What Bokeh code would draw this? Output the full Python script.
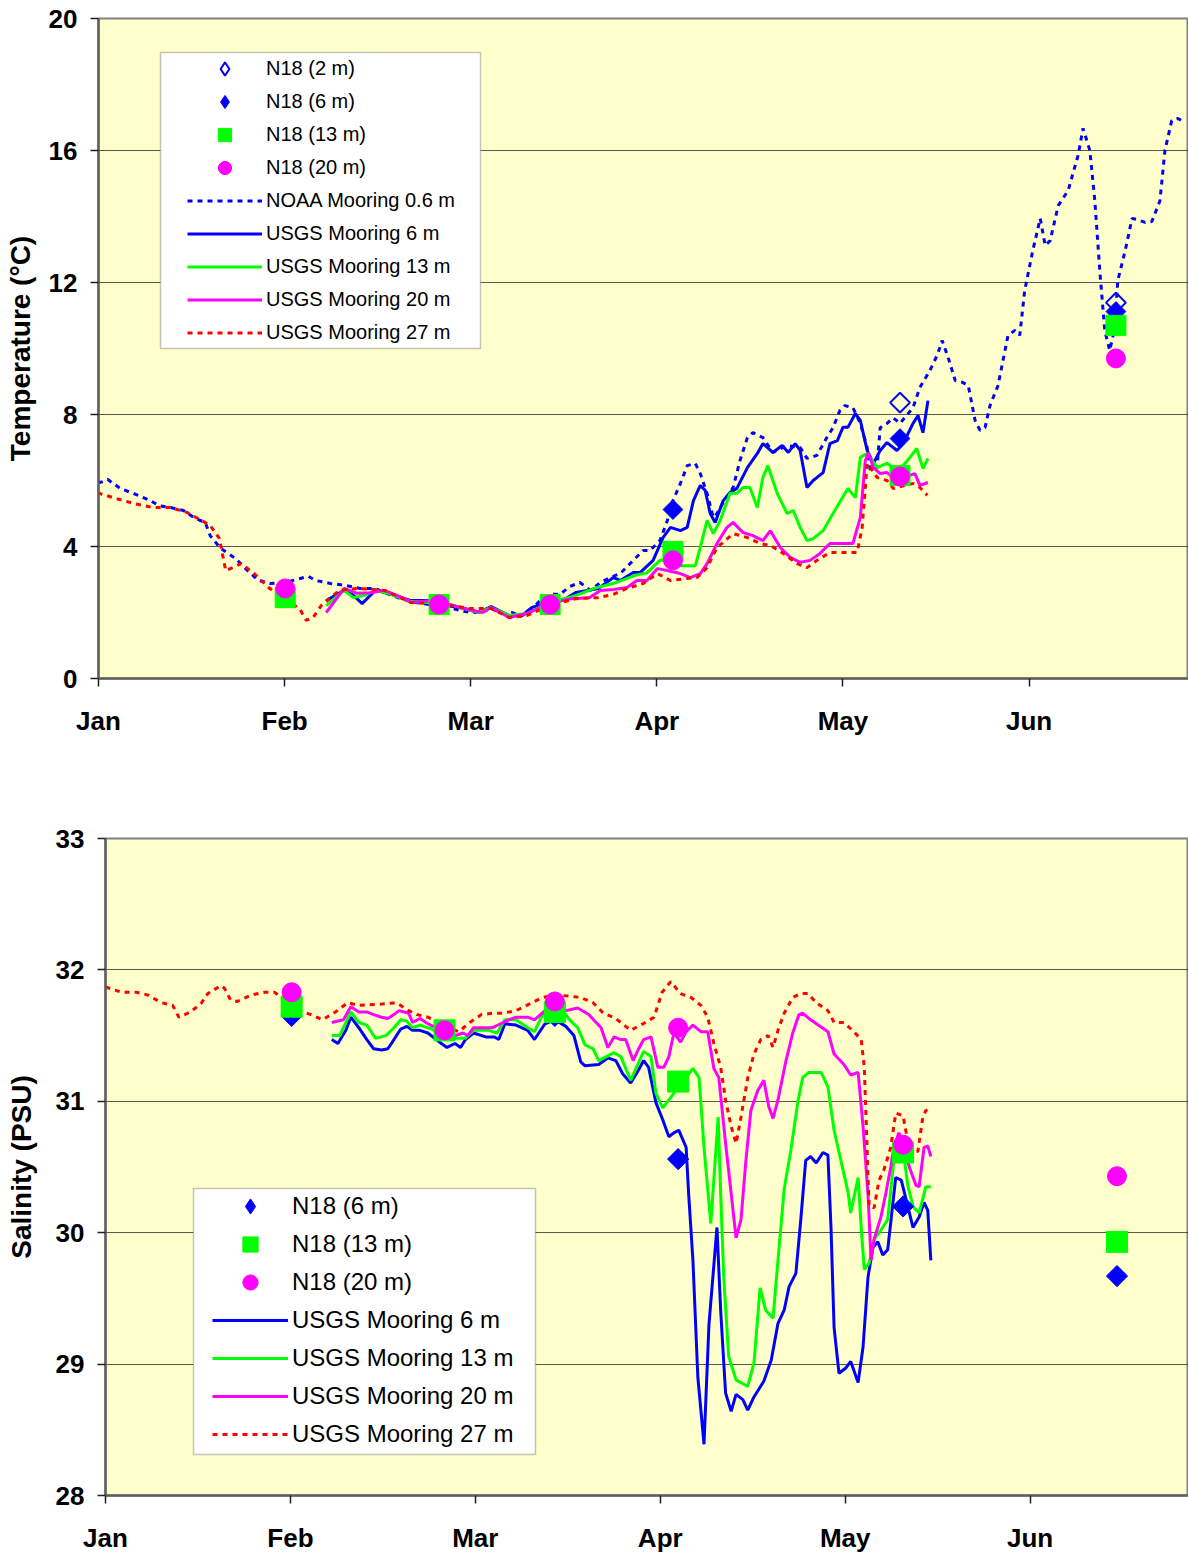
import math
from bokeh.plotting import figure
from bokeh.models import FixedTicker, Legend, LegendItem, BoxAnnotation, Range1d
from bokeh.embed import file_html
from bokeh.resources import INLINE

FONT = "Liberation Sans"
BLUE, GREEN, MAGENTA, RED = "#0000FF", "#00FF00", "#FF00FF", "#FF0000"
NAN = float("nan")

# x axis: days since 1 Jan, month ticks every 30 days
MONTH_DAYS = [0, 30, 60, 90, 120, 150]
MONTH_LABELS = ["Jan", "Feb", "Mar", "Apr", "May", "Jun"]
X_END = 175.7

# ---------------- temperature (deg C) ----------------
noaa_day = [-1.6, 0.3, 1.5, 3.5, 6.0, 8.4, 9.7, 11.6, 13.7, 15.6, 17.2, 18.0, 19.7, 22.1, 23.7,
            25.8, 27.7, 30.1, 32.5, 33.8, 35.0, 37.4, 39.8, 42.2, 44.6, 46.2, 48.7, 51.1, 53.5,
            55.9, 58.3, 59.9, 61.5, 63.2, 64.8, 65.6, 66.7, 68.0, 69.6, 71.2, 73.1, 74.4, 76.0,
            77.6, 79.3, 80.9, 82.5, 84.1, 86.2, 87.8, 88.9, 90.5, 91.7, 92.6, 93.8, 94.9, 96.2,
            97.0, 98.1, 99.1, 99.7, 100.6, 102.3, 103.4, 104.6, 105.5, 107.1, 108.7, 111.0, 113.1,
            114.2, 115.8, 117.4, 118.4, 119.5, 120.3, 121.6, 122.8, 123.9, 124.4, 125.5, 126.0,
            127.1, 128.1, 129.2, 131.3, 132.4, 134.0, 135.2, 136.0, 137.0, 138.1, 139.2, 140.2,
            141.3, 142.1, 142.9, 143.7, 145.0, 145.8, 146.6, 147.7, 148.5, 149.3, 150.6, 151.8,
            152.6, 153.4, 154.7, 156.3, 157.9, 158.7, 159.8, 160.6, 161.4, 162.2, 163.0, 163.8,
            164.3, 165.5, 166.6, 167.6, 168.7, 169.8, 171.1, 171.9, 173.0, 174.0, 175.1]
noaa_t = [6.06, 5.94, 6.03, 5.76, 5.58, 5.39, 5.24, 5.18, 5.09, 4.85, 4.73, 4.33, 3.94, 3.64, 3.33,
          2.97, 2.88, 2.91, 3.03, 3.10, 2.97, 2.88, 2.82, 2.73, 2.73, 2.60, 2.42, 2.30, 2.24,
          2.18, 2.06, 2.00, 2.00, 2.12, 2.00, 1.94, 2.00, 1.88, 2.06, 2.36, 2.55, 2.55, 2.79,
          2.91, 2.67, 2.91, 3.06, 3.18, 3.58, 3.88, 3.88, 4.18, 4.79, 5.39, 5.91, 6.45, 6.52,
          6.21, 5.61, 4.88, 5.00, 5.30, 5.79, 6.60, 7.30, 7.45, 7.30, 6.85, 7.06, 7.00,
          6.67, 6.76, 7.30, 7.60, 8.12, 8.27, 8.21, 7.73, 7.00, 6.30, 6.39, 7.60,
          7.73, 7.90, 7.73, 8.21, 8.82, 9.33, 9.80, 10.24, 9.70, 9.03, 8.98, 8.88,
          7.82, 7.52, 7.60, 8.27, 8.88, 9.64, 10.39, 10.55, 10.40, 11.76, 12.97, 13.94,
          13.12, 13.27, 14.33, 14.79, 15.85, 16.67, 16.00, 14.48, 12.36, 10.55, 9.94, 10.60,
          12.06, 12.97, 13.94, 13.90, 13.82, 13.85, 14.48, 16.00, 16.91, 16.97, 16.85]

t6_day = [36.7, 39.6, 41.1, 42.5, 44.6, 46.7, 50.4, 53.3, 56.1, 59.0, 61.2, 63.3, 66.2, 68.3, 69.8,
          72.7, 74.8, 77.0, 80.6, 83.0, 84.1, 86.2, 87.3, 89.4, 91.0, 92.2, 93.8, 94.9, 95.9, 97.0,
          97.8, 98.6, 99.4, 100.7, 101.8, 102.9, 104.6, 106.2, 107.1, 108.7, 110.2, 111.2, 112.3,
          113.1, 114.2, 115.2, 116.8, 117.9, 119.1, 120.0, 120.8, 122.0, 122.8, 123.9, 124.9,
          126.0, 127.1, 128.7, 129.7, 131.3, 132.1, 132.9, 133.7]
t6_t = [2.36, 2.67, 2.52, 2.27, 2.67, 2.58, 2.36, 2.36, 2.21, 2.12, 2.00, 2.18, 1.91, 1.91, 2.15,
        2.33, 2.36, 2.61, 2.73, 3.06, 2.97, 3.21, 3.21, 3.58, 4.27, 4.58, 4.48, 4.58, 5.39, 5.85,
        5.70, 5.00, 4.73, 5.39, 5.64, 5.76, 6.39, 6.82, 7.12, 6.85, 7.06, 6.85, 7.12,
        6.91, 5.79, 6.00, 6.24, 7.12, 7.21, 7.61, 7.61, 8.03, 7.82, 6.91, 6.52,
        6.91, 7.15, 6.91, 7.12, 7.73, 7.97, 7.45, 8.42]

t13_day = [36.7, 39.6, 41.1, 42.9, 44.6, 46.7, 50.4, 56.1, 61.2, 63.3, 66.2, 69.1, 72.7, 77.0, 79.9,
           83.5, 86.4, 88.4, 90.5, 91.7, 93.8, 96.2, 97.0, 98.1, 99.1, 100.2, 101.8, 102.9, 103.9,
           105.0, 106.2, 107.1, 107.9, 109.4, 111.0, 112.0, 113.1, 114.2, 115.2, 116.8, 118.4,
           120.8, 122.0, 122.8, 123.9, 125.5, 127.1, 128.1, 129.7, 130.8, 131.9, 132.9, 133.7]
t13_t = [2.21, 2.67, 2.45, 2.52, 2.67, 2.58, 2.33, 2.27, 2.00, 2.15, 1.91, 1.97, 2.30, 2.52, 2.73,
         2.91, 3.12, 3.20, 3.58, 3.58, 3.42, 3.42, 3.97, 4.79, 4.39, 4.79, 5.61, 5.61, 5.79,
         5.79, 5.18, 6.09, 6.45, 5.61, 5.00, 5.09, 4.58, 4.18, 4.24, 4.48, 5.00,
         5.76, 5.48, 6.70, 6.82, 6.39, 6.52, 6.39, 6.45, 6.70, 6.97, 6.36, 6.67]

t20_day = [36.7, 39.6, 41.7, 43.8, 46.1, 49.0, 50.4, 53.3, 56.1, 59.0, 61.9, 63.3, 66.2, 69.1, 72.7,
           76.2, 79.1, 80.9, 83.0, 85.2, 86.8, 88.4, 90.1, 91.7, 93.8, 95.4, 97.0, 98.1, 99.7,
           101.3, 102.3, 103.9, 105.5, 107.1, 108.3, 109.9, 111.5, 113.1, 114.7, 116.3, 117.9,
           119.5, 121.6, 122.8, 123.6, 124.1, 124.9, 126.0, 127.1, 128.1, 129.7, 131.6, 132.4, 133.7]
t20_t = [2.00, 2.73, 2.58, 2.60, 2.67, 2.45, 2.30, 2.36, 2.27, 2.12, 2.00, 2.15, 1.85, 1.97, 2.27,
         2.42, 2.45, 2.67, 2.70, 2.76, 2.97, 2.97, 3.33, 3.27, 3.18, 3.06, 3.18, 3.48, 4.09,
         4.58, 4.73, 4.42, 4.33, 4.18, 4.48, 3.97, 3.67, 3.52, 3.58, 3.79, 4.09,
         4.09, 4.09, 4.88, 6.60, 6.85, 6.39, 6.21, 6.24, 6.09, 6.10, 6.21, 5.85, 5.94]

t27_day = [-1.6, 0.3, 2.9, 5.8, 8.7, 11.6, 14.3, 18.0, 19.5, 20.5, 21.6, 23.0, 25.1, 27.4, 30.3,
           32.4, 33.5, 34.6, 35.9, 38.8, 41.7, 46.1, 50.4, 56.1, 59.8, 63.3, 66.2, 69.1, 72.7,
           77.0, 80.6, 83.0, 85.2, 87.8, 90.1, 92.2, 94.9, 96.5, 98.1, 99.7, 102.3, 104.6, 106.7,
           108.3, 110.4, 112.6, 114.2, 115.8, 117.9, 120.0, 122.3, 123.1, 123.9, 124.4, 125.5,
           127.1, 128.1, 131.3, 132.4, 133.6]
t27_t = [5.76, 5.60, 5.45, 5.30, 5.18, 5.18, 5.03, 4.64, 4.24, 3.27, 3.36, 3.48, 3.18, 2.76, 2.36,
         2.12, 1.76, 1.85, 2.21, 2.67, 2.73, 2.67, 2.30, 2.24, 2.12, 2.12, 1.85, 1.91, 2.21,
         2.42, 2.45, 2.55, 2.73, 2.88, 3.18, 2.97, 3.03, 3.06, 3.36, 3.97, 4.39, 4.27, 4.09,
         4.03, 3.79, 3.48, 3.36, 3.58, 3.82, 3.82, 3.82, 4.58, 6.52, 6.40, 6.09,
         6.00, 5.76, 5.91, 5.79, 5.55]

# N18 station casts
n18_t2_day, n18_t2 = [129.2, 164.0], [8.36, 11.39]
n18_t6_day, n18_t6 = [92.6, 129.2, 164.0], [5.12, 7.27, 11.12]
n18_t13_day = [30.1, 54.9, 72.8, 92.6, 129.2, 164.0]
n18_t13 = [2.45, 2.24, 2.24, 3.85, 6.15, 10.70]
n18_t20_day = [30.1, 54.9, 72.8, 92.6, 129.2, 164.0]
n18_t20 = [2.73, 2.24, 2.24, 3.58, 6.12, 9.70]

# ---------------- salinity (PSU) ----------------
s6_day = [36.7, 37.7, 39.0, 39.8, 41.1, 42.4, 43.5, 44.8, 45.8, 46.8, 47.9, 48.9, 49.8, 51.0, 52.3,
          54.2, 55.4, 56.7, 57.6, 58.4, 59.7, 61.7, 63.1, 63.8, 64.8, 66.6, 68.5, 69.6, 71.3, 72.9,
          74.7, 76.0, 77.1, 77.8, 80.0, 81.5, 82.8, 83.9, 85.2, 86.5, 87.3, 88.1, 89.3, 90.4, 91.4,
          92.2, 93.0, 94.2, 94.6, 95.3, 96.1, 97.1, 97.9, 99.2, 99.8, 100.6, 101.5, 102.3, 103.4,
          104.2, 105.2, 106.8, 108.0, 109.1, 110.1, 110.9, 112.0, 112.8, 113.6, 114.4, 115.3,
          116.4, 117.2, 117.7, 118.2, 119.0, 120.1, 120.9, 122.1, 122.9, 123.7, 124.5, 125.3,
          126.1, 126.9, 127.8, 128.2, 129.1, 129.9, 131.0, 132.0, 132.8, 133.4, 133.9]
s6_s = [31.47, 31.44, 31.54, 31.64, 31.56, 31.47, 31.40, 31.39, 31.40, 31.47, 31.55, 31.57, 31.54,
        31.54, 31.52, 31.45, 31.41, 31.44, 31.41, 31.47, 31.52, 31.49, 31.49, 31.47, 31.59, 31.58,
        31.54, 31.47, 31.59, 31.62, 31.57, 31.50, 31.30, 31.27, 31.28, 31.33, 31.31, 31.21, 31.14,
        31.24, 31.31, 31.26, 30.99, 30.86, 30.73, 30.76, 30.78, 30.65, 30.30, 29.79, 28.90, 28.39,
        29.30, 30.04, 29.41, 28.78, 28.64, 28.77, 28.73, 28.65, 28.75, 28.87, 29.03, 29.31, 29.41,
        29.59, 29.69, 30.10, 30.55, 30.58, 30.53, 30.61, 30.59, 30.04, 29.28, 28.93, 28.97, 29.02,
        28.86, 29.13, 29.66, 29.89, 29.93, 29.83, 29.87, 30.25, 30.42, 30.40, 30.25, 30.04, 30.12,
        30.23, 30.17, 29.79]

s13_day = [36.7, 38.0, 39.8, 41.1, 42.4, 43.8, 45.5, 46.8, 47.9, 48.9, 49.8, 51.0, 52.9, 54.7, 56.7,
           58.4, 59.7, 62.2, 63.5, 64.8, 66.6, 68.5, 69.6, 70.9, 72.2, 74.0, 75.3, 76.6, 77.8, 79.1,
           80.0, 82.5, 83.6, 85.2, 87.3, 88.5, 89.3, 90.4, 92.2, 93.3, 94.5, 95.3, 96.3, 97.1, 98.2,
           99.4, 99.8, 100.3, 101.1, 102.3, 104.2, 105.2, 106.2, 107.1, 108.3, 109.1, 110.1, 111.2,
           112.3, 113.1, 114.1, 116.1, 117.2, 118.2, 119.3, 120.5, 120.9, 122.1, 122.6, 123.1,
           123.9, 124.7, 125.8, 126.9, 127.9, 128.6, 129.4, 130.2, 131.0, 132.0, 133.1, 133.9]
s13_s = [31.50, 31.50, 31.68, 31.60, 31.58, 31.48, 31.50, 31.56, 31.62, 31.61, 31.56, 31.58, 31.55,
         31.50, 31.48, 31.48, 31.54, 31.54, 31.52, 31.62, 31.62, 31.56, 31.53, 31.66, 31.72, 31.70,
         31.62, 31.56, 31.43, 31.40, 31.31, 31.37, 31.34, 31.16, 31.38, 31.34, 31.06, 30.95, 31.06,
         31.14, 31.20, 31.25, 31.18, 30.65, 30.07, 30.88, 30.30, 29.66, 29.06, 28.88, 28.83, 29.01,
         29.58, 29.41, 29.35, 29.79, 30.33, 30.63, 30.99, 31.18, 31.22, 31.22, 31.11, 30.78, 30.55,
         30.30, 30.15, 30.42, 30.04, 29.72, 29.77, 29.95, 30.02, 30.10, 30.55, 30.65, 30.63, 30.35,
         30.20, 30.15, 30.35, 30.35]

s20_day = [36.7, 38.6, 39.8, 41.1, 42.4, 43.5, 44.8, 45.8, 46.8, 47.6, 49.2, 49.8, 51.0, 52.3, 53.6,
           55.0, 56.7, 58.0, 58.8, 59.7, 61.0, 62.8, 64.1, 65.4, 66.6, 68.5, 69.6, 71.3, 72.9, 74.7,
           76.6, 78.4, 80.4, 81.5, 82.5, 83.6, 84.4, 85.6, 86.4, 87.3, 88.5, 89.6, 90.6, 91.4, 92.2,
           93.3, 94.2, 95.3, 96.6, 97.7, 98.7, 99.5, 100.6, 101.5, 102.3, 103.1, 103.9, 104.7,
           105.8, 106.8, 107.6, 108.3, 109.1, 110.4, 111.5, 112.5, 113.1, 114.4, 117.2, 118.2,
           119.8, 120.9, 122.1, 122.9, 123.7, 124.2, 124.7, 125.8, 126.6, 127.4, 127.9, 128.7,
           129.5, 130.4, 131.5, 132.0, 132.8, 133.4, 133.9]
s20_s = [31.60, 31.62, 31.72, 31.68, 31.68, 31.66, 31.64, 31.63, 31.66, 31.69, 31.67, 31.60, 31.63,
         31.59, 31.56, 31.54, 31.50, 31.52, 31.50, 31.56, 31.56, 31.56, 31.59, 31.62, 31.64, 31.64,
         31.62, 31.69, 31.77, 31.69, 31.71, 31.66, 31.56, 31.41, 31.49, 31.47, 31.47, 31.31, 31.39,
         31.47, 31.49, 31.26, 31.26, 31.34, 31.52, 31.45, 31.53, 31.58, 31.53, 31.53, 31.25, 31.18,
         30.68, 30.30, 29.96, 30.10, 30.55, 30.93, 31.08, 31.16, 30.96, 30.87, 31.01, 31.31, 31.52,
         31.66, 31.67, 31.62, 31.53, 31.36, 31.28, 31.20, 31.22, 30.81, 30.30, 29.79, 29.95, 30.12,
         30.30, 30.50, 30.65, 30.76, 30.69, 30.50, 30.36, 30.35, 30.65, 30.66, 30.58]

s27_day = [-1.5, 0.0, 2.6, 5.0, 6.8, 9.1, 10.9, 11.9, 13.8, 15.6, 16.6, 18.7, 19.3, 20.3, 21.4, 23.7,
           25.8, 27.4, 28.7, 30.2, 31.5, 33.3, 35.2, 37.3, 39.3, 41.1, 44.8, 47.2, 49.2, 50.5, 52.3,
           54.2, 55.7, 57.3, 59.1, 61.0, 62.8, 64.4, 66.6, 69.2, 70.9, 72.9, 75.3, 77.1, 79.1, 80.8,
           82.8, 85.2, 87.2, 89.0, 90.3, 91.7, 93.3, 95.0, 96.6, 97.7, 98.7, 99.8, 100.6, 101.5,
           102.3, 103.1, 104.2, 105.2, 106.3, 107.5, 108.3, 109.1, 110.1, 111.5, 112.8, 114.0,
           115.3, 117.2, 118.2, 119.8, 121.4, 122.6, 123.1, 123.4, 123.7, 123.9, 124.7, 125.5,
           126.3, 127.4, 128.2, 129.4, 129.9, 130.7, 131.8, 132.6, 133.1, 133.9]
s27_s = [31.90, 31.87, 31.83, 31.83, 31.81, 31.75, 31.73, 31.64, 31.68, 31.75, 31.82, 31.88, 31.86,
         31.77, 31.76, 31.81, 31.83, 31.83, 31.79, 31.75, 31.69, 31.66, 31.62, 31.68, 31.75, 31.73,
         31.74, 31.75, 31.69, 31.66, 31.64, 31.60, 31.56, 31.53, 31.60, 31.66, 31.67, 31.67, 31.69,
         31.75, 31.79, 31.81, 31.80, 31.79, 31.75, 31.67, 31.63, 31.54, 31.59, 31.64, 31.83, 31.91,
         31.82, 31.79, 31.73, 31.64, 31.44, 31.26, 31.01, 30.81, 30.68, 30.88, 31.18, 31.36, 31.47,
         31.50, 31.41, 31.54, 31.67, 31.79, 31.82, 31.82, 31.75, 31.69, 31.60, 31.60, 31.53, 31.47,
         31.26, 30.86, 30.42, 30.20, 30.19, 30.40, 30.48, 30.65, 30.91, 30.89, 30.76, 30.61, 30.62,
         30.88, 30.93, 30.95]

n18_s6_day = [30.2, 72.9, 92.9, 129.4, 164.1]
n18_s6 = [31.65, 31.65, 30.56, 30.20, 29.67]
n18_s13_day = [30.2, 55.0, 72.9, 92.9, 129.4, 164.1]
n18_s13 = [31.72, 31.54, 31.68, 31.15, 30.61, 29.93]
n18_s20_day = [30.2, 55.0, 72.9, 92.9, 129.4, 164.1]
n18_s20 = [31.83, 31.54, 31.76, 31.56, 30.67, 30.43]


def make_panel(height, left, top, bottom, y0, y1, yticks, ylabel, label_standoff):
    p = figure(width=1188, height=height, x_range=Range1d(0, X_END), y_range=Range1d(y0, y1),
               output_backend="svg", toolbar_location=None,
               min_border_left=left, min_border_right=0,
               min_border_top=top, min_border_bottom=bottom)
    p.background_fill_color = "#FFFFCC"
    p.border_fill_color = "white"
    p.outline_line_color = "#808080"
    p.outline_line_width = 2
    p.xgrid.visible = False
    p.ygrid.grid_line_color = "#303030"
    p.ygrid.grid_line_alpha = 0.8
    p.ygrid.grid_line_width = 1
    p.ygrid.ticker = FixedTicker(ticks=yticks)

    p.xaxis.ticker = FixedTicker(ticks=MONTH_DAYS)
    p.xaxis.major_label_overrides = {d: m for d, m in zip(MONTH_DAYS, MONTH_LABELS)}
    p.yaxis.ticker = FixedTicker(ticks=yticks)
    p.yaxis.major_label_overrides = {t: str(t) for t in yticks}
    for ax in (p.xaxis[0], p.yaxis[0]):
        ax.axis_line_color = "#606060"
        ax.axis_line_width = 2.5
        ax.major_tick_line_color = "#202020"
        ax.major_tick_line_width = 1.5
        ax.major_tick_in = 0
        ax.major_tick_out = 8
        ax.minor_tick_line_color = None
        ax.major_label_text_font = FONT
        ax.major_label_text_font_style = "bold"
        ax.major_label_text_font_size = "26px"
        ax.major_label_text_color = "black"
    p.xaxis.major_label_standoff = 19
    p.yaxis.major_label_standoff = 13
    p.yaxis.axis_label = ylabel
    p.yaxis.axis_label_text_font = FONT
    p.yaxis.axis_label_text_font_style = "bold"
    p.yaxis.axis_label_text_font_size = "28px"
    p.yaxis.axis_label_text_color = "black"
    p.yaxis.axis_label_standoff = label_standoff
    return p


def mooring_line(p, x, y, color, dotted=False):
    if dotted:
        return p.line(x, y, line_color=color, line_width=3, line_dash="5 5")
    return p.line(x, y, line_color=color, line_width=3)


def add_legend(p, items, box, loc, glyph_w, glyph_h, font_px):
    left, right, top, bottom = box
    p.add_layout(BoxAnnotation(left=left, right=right, top=top, bottom=bottom,
                               left_units="canvas", right_units="canvas",
                               top_units="canvas", bottom_units="canvas",
                               fill_color="white", fill_alpha=1.0,
                               line_color="#404040", line_width=1.5))
    legend = Legend(items=[LegendItem(label=lab, renderers=[r]) for lab, r in items],
                    location=loc, padding=0, spacing=0, margin=0,
                    glyph_width=glyph_w, glyph_height=glyph_h, label_standoff=4,
                    label_height=glyph_h,
                    label_text_font=FONT, label_text_font_size=f"{font_px}px",
                    label_text_color="black",
                    background_fill_alpha=0, border_line_color=None)
    p.add_layout(legend)


DIAMOND_ANGLE = math.pi / 4

# ---------------- top panel: temperature ----------------
pt = make_panel(780, 98, 18, 102, 0, 20, [0, 4, 8, 12, 16, 20], "Temperature (°C)", 10)

r_noaa = mooring_line(pt, noaa_day, noaa_t, BLUE, dotted=True)
r_t6 = mooring_line(pt, t6_day, t6_t, BLUE)
r_t13 = mooring_line(pt, t13_day, t13_t, GREEN)
r_t20 = mooring_line(pt, t20_day, t20_t, MAGENTA)
r_t27 = mooring_line(pt, t27_day, t27_t, RED, dotted=True)

pt.scatter(n18_t2_day, n18_t2, marker="square", angle=DIAMOND_ANGLE, size=14,
           fill_color=None, line_color=BLUE, line_width=2)
pt.scatter(n18_t6_day, n18_t6, marker="square", angle=DIAMOND_ANGLE, size=14,
           fill_color=BLUE, line_color=BLUE)
r_c13 = pt.scatter(n18_t13_day, n18_t13, marker="square", size=20, fill_color=GREEN, line_color=GREEN)
r_c20 = pt.scatter(n18_t20_day, n18_t20, marker="circle", size=19, fill_color=MAGENTA, line_color=MAGENTA)

# diamond swatches for the legend (legend markers are drawn unrotated)
k_t2 = pt.scatter([NAN], [NAN], marker="diamond", size=14, fill_color=None, line_color=BLUE, line_width=2)
k_t6 = pt.scatter([NAN], [NAN], marker="diamond", size=14, fill_color=BLUE, line_color=BLUE)

add_legend(pt, [("N18 (2 m)", k_t2), ("N18 (6 m)", k_t6), ("N18 (13 m)", r_c13),
                ("N18 (20 m)", r_c20), ("NOAA Mooring 0.6 m", r_noaa),
                ("USGS Mooring 6 m", r_t6), ("USGS Mooring 13 m", r_t13),
                ("USGS Mooring 20 m", r_t20), ("USGS Mooring 27 m", r_t27)],
           box=(160, 480, 52, 348), loc=(89, 329), glyph_w=75, glyph_h=33, font_px=20)

# ---------------- bottom panel: salinity ----------------
ps = make_panel(775, 105, 58, 59, 28, 33, [28, 29, 30, 31, 32, 33], "Salinity (PSU)", 16)

r_s6 = mooring_line(ps, s6_day, s6_s, BLUE)
r_s13 = mooring_line(ps, s13_day, s13_s, GREEN)
r_s20 = mooring_line(ps, s20_day, s20_s, MAGENTA)
r_s27 = mooring_line(ps, s27_day, s27_s, RED, dotted=True)

ps.scatter(n18_s6_day, n18_s6, marker="square", angle=DIAMOND_ANGLE, size=15,
           fill_color=BLUE, line_color=BLUE)
r_d13 = ps.scatter(n18_s13_day, n18_s13, marker="square", size=21, fill_color=GREEN, line_color=GREEN)
r_d20 = ps.scatter(n18_s20_day, n18_s20, marker="circle", size=19, fill_color=MAGENTA, line_color=MAGENTA)

k_s6 = ps.scatter([NAN], [NAN], marker="diamond", size=15, fill_color=BLUE, line_color=BLUE)

add_legend(ps, [("N18 (6 m)", k_s6), ("N18 (13 m)", r_d13), ("N18 (20 m)", r_d20),
                ("USGS Mooring 6 m", r_s6), ("USGS Mooring 13 m", r_s13),
                ("USGS Mooring 20 m", r_s20), ("USGS Mooring 27 m", r_s27)],
           box=(193, 535, 408, 674), loc=(107, 42), glyph_w=76, glyph_h=38, font_px=24)

# the two panels are separate roots so each keeps its own plot-area margins
open("out.html", "w").write(file_html([pt, ps], INLINE))
